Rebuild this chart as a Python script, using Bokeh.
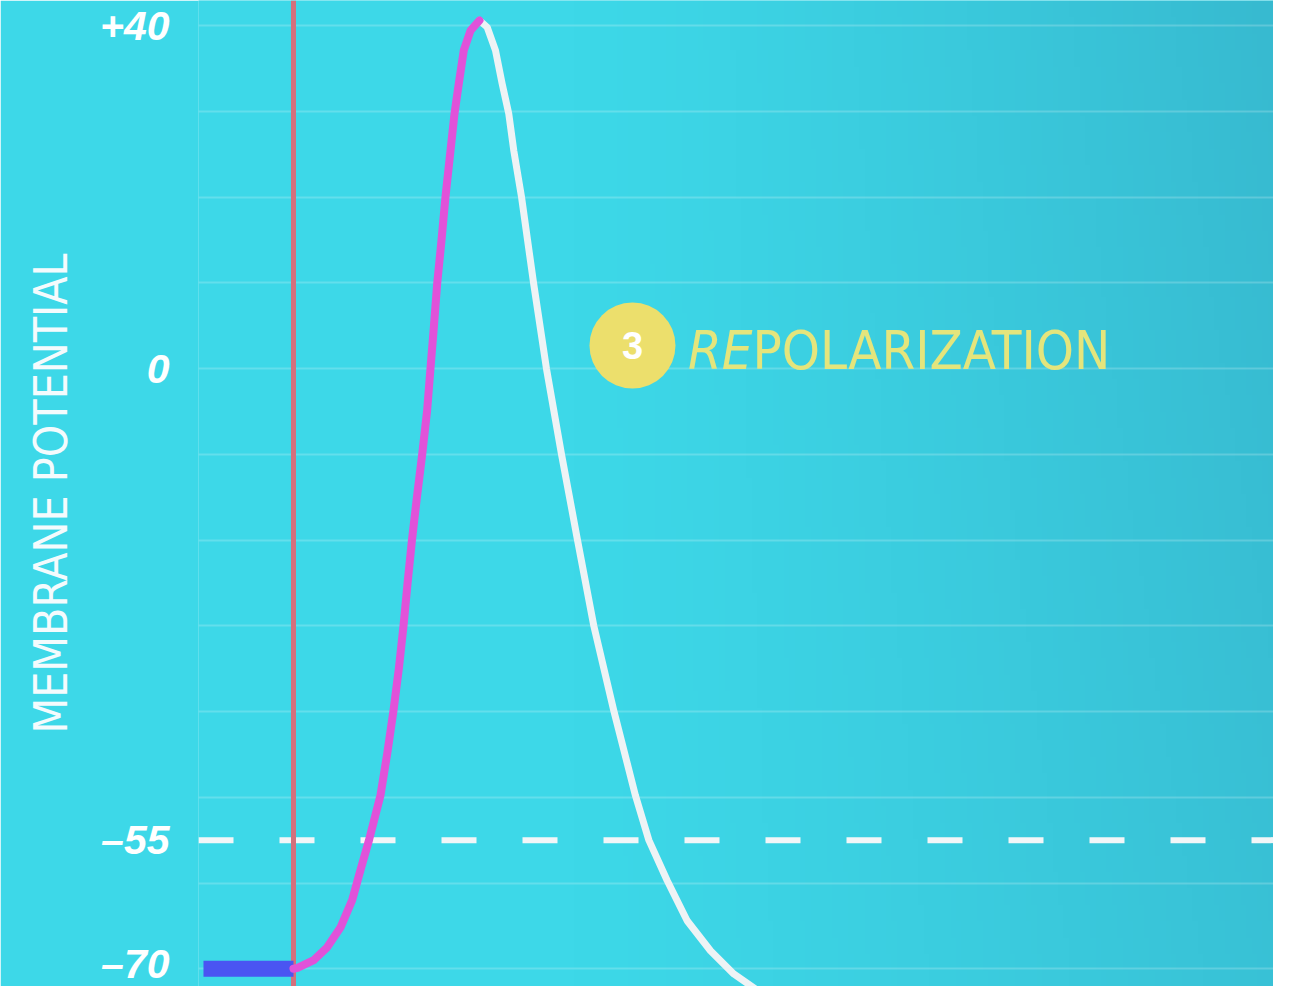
import numpy as np
from bokeh.plotting import figure
from bokeh.models import FixedTicker, Span, Range1d
from bokeh.core.properties import value
from bokeh.embed import file_html
from bokeh.resources import INLINE

# ---- data (time in ms, membrane potential in mV) ----
depol_t = [1.0, 1.043, 1.218, 1.362, 1.505, 1.631, 1.720, 1.812, 1.866, 1.935, 2.008, 2.075, 2.134,
           2.183, 2.226, 2.274, 2.323, 2.384, 2.437, 2.473, 2.509, 2.545, 2.591, 2.634, 2.688, 2.731,
           2.777, 2.831, 2.903, 3.0]
depol_v = [-70.0, -69.9, -69.0, -67.5, -65.2, -62.0, -58.5, -55.0, -52.7, -49.8, -44.9, -39.9, -34.9,
           -30.0, -25.1, -20.0, -15.4, -10.0, -4.9, 0.0, 4.8, 9.9, 14.9, 20.0, 25.4, 29.7,
           33.2, 37.1, 39.4, 40.6]
repol_t = [3.0, 3.083, 3.172, 3.244, 3.315, 3.369, 3.452, 3.581, 3.720, 3.882,
           4.054, 4.229, 4.444, 4.677, 4.821, 5.018, 5.233, 5.484, 5.734, 5.986]
repol_v = [40.6, 39.8, 37.1, 33.2, 29.7, 25.4, 20.0, 10.0, 0.0, -10.0,
           -20.0, -30.0, -39.9, -49.8, -55.0, -59.7, -64.4, -67.9, -70.6, -72.5]
rest_t = [0.032, 1.0]
rest_v = [-70, -70]
stimulus_t = 1.0
threshold_v = -55
tick_values = [40, 0, -55, -70]
tick_labels = {40: "+40", 0: "0", -55: "\u201355", -70: "\u201370"}
grid_values = list(range(-70, 41, 10))
phase_number = "3"
phase_label_a = "RE"
phase_label_b = "POLARIZATION"
phase_pos = (4.645, 2.68)
label_join = (5.935, 2.05)

COND = "'DejaVu Sans Condensed', 'Liberation Sans Narrow', 'Roboto Condensed', Roboto, sans-serif"

W, H = 1273, 986
X0, X1 = -0.0215, 11.538
Y0, Y1 = -72.07, 42.92
p = figure(width=W, height=H, output_backend="svg", toolbar_location=None,
           x_range=Range1d(X0, X1), y_range=Range1d(Y0, Y1),
           x_axis_location=None, min_border_left=198, min_border_top=0,
           min_border_bottom=0, min_border_right=0)
p.border_fill_color = "#3dd8e8"
p.background_fill_color = "#3dd8e8"
p.outline_line_color = None

# background gradient (style only)
nx, ny = 200, 60
gx = np.linspace(0, 1, nx)[None, :]
gy = np.linspace(0, 1, ny)[:, None]   # 0 = bottom, 1 = top
left = np.array([61, 216, 232])
right = np.array([55, 186, 208])
f = np.clip((gx - 0.35) / 0.65, 0, 1) ** 1.2 * (0.75 + 0.25 * gy)
img = np.zeros((ny, nx), dtype=np.uint32)
view = img.view(dtype=np.uint8).reshape((ny, nx, 4))
for c in range(3):
    view[:, :, c] = (left[c] + (right[c] - left[c]) * f).astype(np.uint8)
view[:, :, 3] = 255
bg = p.image_rgba(image=[img], x=X0, y=Y0, dw=X1 - X0, dh=Y1 - Y0)
bg.level = "image"

# axes / grid
p.yaxis.ticker = FixedTicker(ticks=tick_values)
p.yaxis.major_label_overrides = tick_labels
p.yaxis.major_tick_line_color = None
p.yaxis.minor_tick_line_color = None
p.yaxis.axis_line_color = None
p.yaxis.major_label_text_font = "Liberation Sans"
p.yaxis.major_label_text_font_style = "bold italic"
p.yaxis.major_label_text_font_size = "41px"
p.yaxis.major_label_text_color = "white"
p.yaxis.major_label_standoff = 23
p.yaxis.axis_label = "MEMBRANE POTENTIAL"
p.yaxis.axis_label_text_font = COND
p.yaxis.axis_label_text_font_style = "normal"
p.yaxis.axis_label_text_font_size = "46px"
p.yaxis.axis_label_text_color = "#f4fbfd"
p.yaxis.axis_label_standoff = 19

p.xgrid.visible = False
p.ygrid.ticker = FixedTicker(ticks=grid_values)
p.ygrid.grid_line_color = "white"
p.ygrid.grid_line_alpha = 0.2
p.ygrid.grid_line_width = 2

thr = Span(location=threshold_v, dimension="width", line_color="#f2f6f8",
           line_width=6, line_dash="35 46", level="underlay")
stim = Span(location=stimulus_t, dimension="height", line_color="#d4707c",
            line_width=5, level="underlay")
p.add_layout(thr)
p.add_layout(stim)

p.line(rest_t, rest_v, line_color="#4a55f2", line_width=16)
p.line(repol_t, repol_v, line_color="#eef3f5", line_width=7, line_cap="round", line_join="round")
p.line(depol_t, depol_v, line_color="#e152d9", line_width=8, line_cap="round", line_join="round")

p.scatter([phase_pos[0]], [phase_pos[1]], size=86, fill_color="#ecdf6c", line_color=None)
p.text([phase_pos[0]], [phase_pos[1]], text=[phase_number], text_color="white",
       text_font=value("Liberation Sans"), text_font_style="bold", text_font_size="38px",
       text_align="center", text_baseline="middle")
p.text([label_join[0]], [label_join[1]], text=[phase_label_a], text_color="#e4e57c",
       text_font=value(COND), text_font_style="italic", text_font_size="54px",
       text_align="right", text_baseline="alphabetic")
p.text([label_join[0]], [label_join[1]], text=[phase_label_b], text_color="#e4e57c",
       text_font=value(COND), text_font_style="normal", text_font_size="54px",
       text_align="left", text_baseline="alphabetic")

open("out.html", "w").write(file_html(p, INLINE))
